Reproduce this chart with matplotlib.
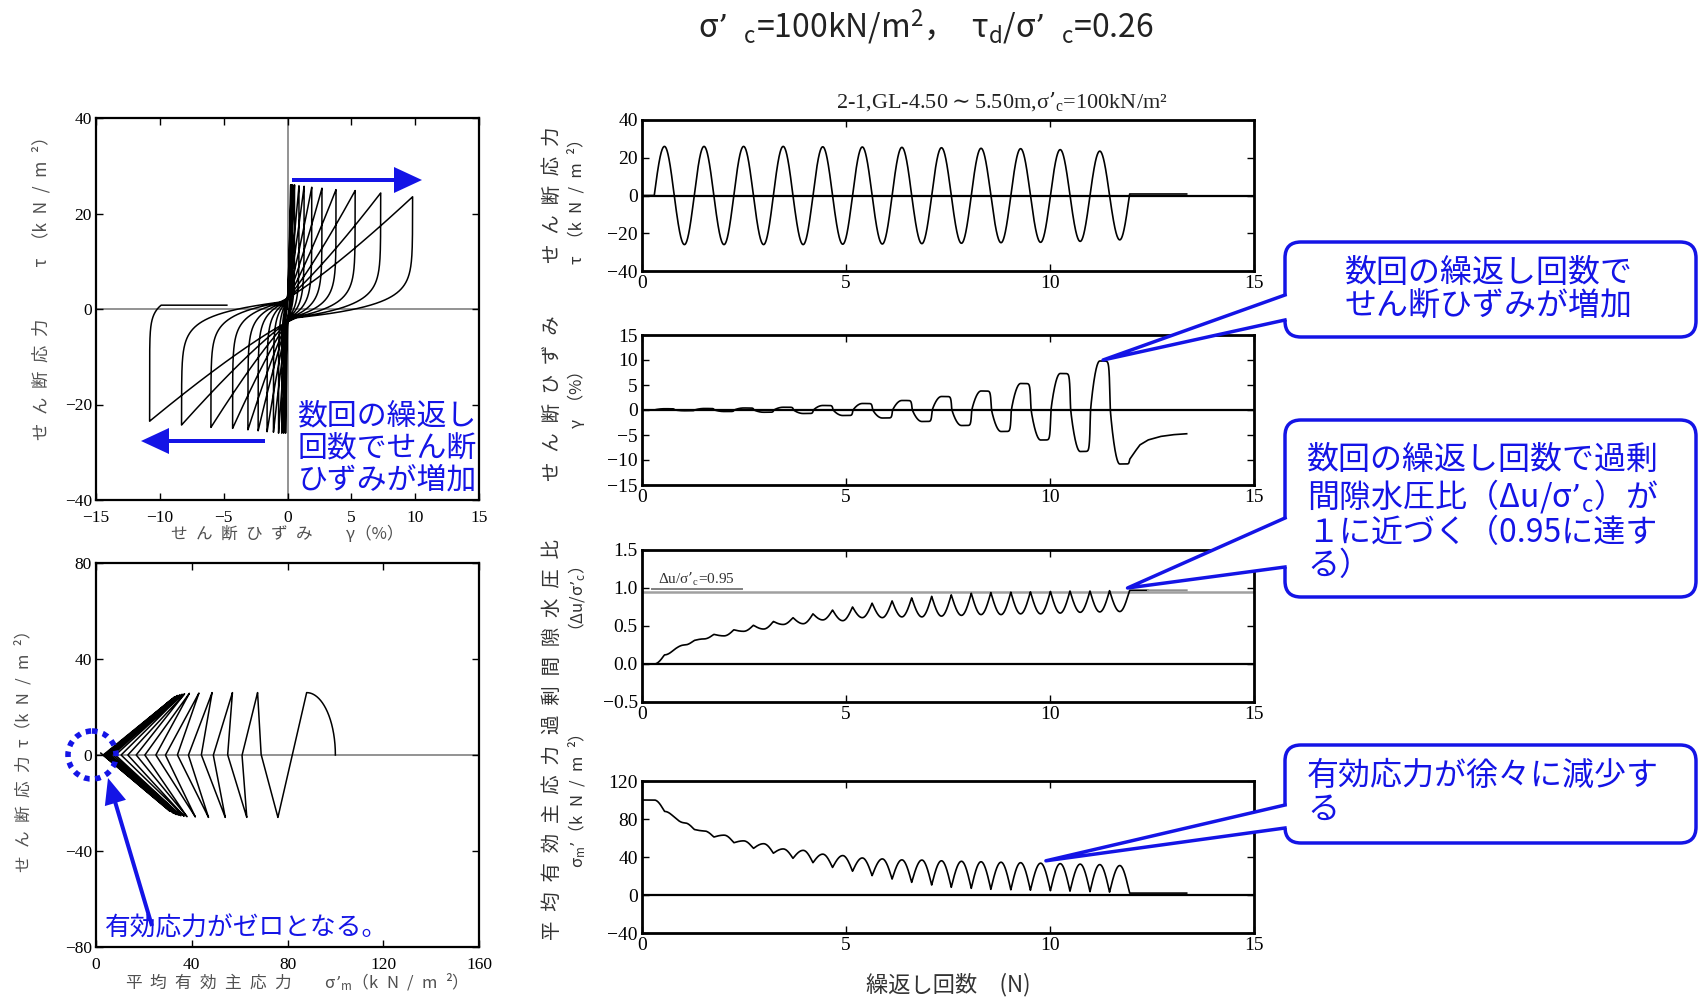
import numpy as np
import matplotlib
matplotlib.use("Agg")
import matplotlib.pyplot as plt
from matplotlib.patches import FancyBboxPatch, Polygon, Circle, FancyArrow

JP = ["Noto Sans CJK JP", "DejaVu Sans"]
SERIF = ["Liberation Serif", "Noto Sans CJK JP", "DejaVu Sans"]
plt.rcParams["font.family"] = JP
plt.rcParams["mathtext.fontset"] = "dejavuserif"

BLUE = "#1414e6"
W, H = 1698, 1000

# ---------------- data ----------------
# times (number of cycles N) of shear-stress zero crossings and extremes
T_CROSS = [0.30, 0.79, 1.28, 1.76, 2.25, 2.73, 3.22, 3.70, 4.19, 4.67, 5.16, 5.64,
           6.13, 6.61, 7.10, 7.58, 8.07, 8.55, 9.04, 9.52, 10.01, 10.49, 10.98, 11.46, 11.95]
T_EXT = [0.55, 1.04, 1.52, 2.01, 2.49, 2.98, 3.46, 3.95, 4.43, 4.92, 5.40, 5.89,
         6.37, 6.86, 7.34, 7.83, 8.31, 8.80, 9.28, 9.77, 10.25, 10.74, 11.22, 11.71]
N_END = 13.35

# shear stress tau (kN/m2) at the extremes, and residual value after the test
TAU_EXT = [26, -26, 26, -26, 26, -26, 26, -26, 25.8, -25.8, 25.7, -25.7,
           25.5, -25.5, 25.3, -25.3, 25.0, -25.0, 24.8, -24.8, 24.3, -24.3, 23.5, -23.5]
TAU_END = 0.8

# shear strain gamma (%) at the stress extremes
GAM_EXT = [0.25, -0.15, 0.3, -0.3, 0.4, -0.45, 0.55, -0.7, 0.9, -1.1, 1.3, -1.6,
           1.9, -2.3, 2.7, -3.1, 3.8, -4.3, 5.3, -6.0, 7.3, -8.3, 9.8, -10.8]
# strain recovery after the last cycle
GAM_TAIL_T = [11.95, 12.05, 12.2, 12.4, 12.7, 13.0, 13.35]
GAM_TAIL = [-9.9, -8.7, -7.0, -6.0, -5.3, -4.95, -4.75]

# mean effective principal stress sigma'm (kN/m2)
SM_CROSS = [100, 82, 69, 61, 55, 49, 44, 38.6, 34, 29, 25, 20.4, 16.8, 13.3, 10.5,
            8.1, 7, 6, 5.5, 5, 4.5, 4, 3.5, 3, 2]
SM_EXT = [88, 76, 67.5, 63, 57, 54, 48.5, 47, 43, 41.5, 39, 38, 37, 36.8, 36, 35.5,
          35, 34.5, 34, 33.5, 33, 32.5, 32, 31]

# excess pore water pressure ratio du/sigma'c
DU_CROSS = [0, 0.19, 0.31, 0.39, 0.45, 0.51, 0.56, 0.61, 0.66, 0.71, 0.75, 0.80, 0.83,
            0.87, 0.89, 0.91, 0.93, 0.94, 0.945, 0.95, 0.955, 0.96, 0.96, 0.965, 0.97]
DU_EXT = [0.12, 0.25, 0.33, 0.37, 0.43, 0.46, 0.52, 0.53, 0.58, 0.57, 0.61, 0.61,
          0.62, 0.62, 0.63, 0.64, 0.65, 0.65, 0.66, 0.66, 0.67, 0.68, 0.685, 0.69]
DU_LINE = 0.95

# axis ticks
X_TICKS_STRAIN = [-15, -10, -5, 0, 5, 10, 15]
Y_TICKS_STRESS = [-40, -20, 0, 20, 40]
X_TICKS_PATH = [0, 40, 80, 120, 160]
Y_TICKS_PATH = [-80, -40, 0, 40, 80]
X_TICKS_N = [0, 5, 10, 15]
Y_TICKS_GAM = [-15, -10, -5, 0, 5, 10, 15]
Y_TICKS_DU = [-0.5, 0.0, 0.5, 1.0, 1.5]
Y_TICKS_SM = [-40, 0, 40, 80, 120]

# ---------------- build the time histories ----------------
t = np.linspace(0.0, N_END, 40001)


def shaped(cross_vals, ext_vals, first_slow=False):
    y = np.full(t.shape, float(cross_vals[0]))
    for i in range(len(T_EXT)):
        segs = [(T_CROSS[i], T_EXT[i], cross_vals[i], ext_vals[i], "rise"),
                (T_EXT[i], T_CROSS[i + 1], ext_vals[i], cross_vals[i + 1], "fall")]
        for ta, tb, a, b, kind in segs:
            m = (t >= ta) & (t < tb)
            s = (t[m] - ta) / (tb - ta)
            if kind == "rise" and not (i == 0 and first_slow):
                y[m] = a + (b - a) * np.sin(np.pi * s / 2)
            else:
                y[m] = a + (b - a) * (1 - np.cos(np.pi * s / 2))
    y[t >= T_CROSS[-1]] = cross_vals[-1]
    return y


tau = shaped([0.0] * len(T_EXT) + [TAU_END], TAU_EXT)
sm = shaped(SM_CROSS, SM_EXT, first_slow=True)
du = shaped(DU_CROSS, DU_EXT, first_slow=True)

P, LAM = 0.85, 2.6
gam = np.zeros_like(t)
m = (t >= T_CROSS[0]) & (t < T_EXT[0])
gam[m] = GAM_EXT[0] * np.clip(tau[m] / TAU_EXT[0], 0, 1) ** P
for i in range(1, len(T_EXT)):
    m = (t >= T_EXT[i - 1]) & (t < T_EXT[i])
    g1, g2, A2 = GAM_EXT[i - 1], GAM_EXT[i], TAU_EXT[i]
    sgn = 1.0 if A2 > 0 else -1.0
    tf = 1.4 if sgn > 0 else -1.8
    gc = 0.08 * g1
    x = sgn * (tau[m] - tf)
    span = abs(A2) - sgn * tf
    gam[m] = np.where(x <= 0,
                      g1 - (g1 - gc) * np.exp(np.minimum(x, 0) / LAM),
                      gc + (g2 - gc) * np.clip(x / span, 0, 1) ** P)
# last unloading: strain starts to recover as the stress returns to zero
m = (t >= T_EXT[-1]) & (t < T_CROSS[-1])
gam[m] = GAM_EXT[-1] + (GAM_TAIL[0] - GAM_EXT[-1]) * np.exp((tau[m] - TAU_END) / 2.0)
m = t >= T_CROSS[-1]
gam[m] = np.interp(t[m], GAM_TAIL_T, GAM_TAIL)

# ---------------- figure ----------------
fig = plt.figure(figsize=(W / 100, H / 100), dpi=100)
fig.patch.set_facecolor("white")


def add_ax(left, top, width, height):
    return fig.add_axes([left / W, 1 - (top + height) / H, width / W, height / H])


def fmt(v, dec=0):
    s = f"{v:.{dec}f}"
    return s.replace("-", "\u2212")


def style(ax, xt, yt, fs, lw, ydec=0, xpad=3):
    ax.set_xticks(xt)
    ax.set_xticklabels([fmt(v) for v in xt], fontfamily=SERIF, fontsize=fs)
    ax.set_yticks(yt)
    ax.set_yticklabels([fmt(v, ydec) for v in yt], fontfamily=SERIF, fontsize=fs)
    ax.tick_params(direction="in", top=True, right=True, length=5, width=1.0, pad=3)
    ax.tick_params(axis="x", pad=xpad)
    for sp_ in ax.spines.values():
        sp_.set_linewidth(lw)


# stress-strain loops
ax1 = add_ax(96, 118, 383, 382)
ax1.axhline(0, color="#808080", lw=1.2, zorder=1)
ax1.axvline(0, color="#808080", lw=1.2, zorder=1)
ax1.plot(gam, tau, color="black", lw=1.1, zorder=2)
ax1.set_xlim(-15, 15)
ax1.set_ylim(-40, 40)
style(ax1, X_TICKS_STRAIN, Y_TICKS_STRESS, 12.5, 1.6, xpad=7)

# effective stress path
ax2 = add_ax(96, 563, 383, 384)
ax2.axhline(0, color="#808080", lw=1.2, zorder=1)
ax2.plot(sm, tau, color="black", lw=1.1, zorder=2)
ax2.set_xlim(0, 160)
ax2.set_ylim(-80, 80)
style(ax2, X_TICKS_PATH, Y_TICKS_PATH, 12.5, 1.6, xpad=7)

# time histories
RL, RW = 642, 612
axr1 = add_ax(RL, 120, RW, 151)
axr2 = add_ax(RL, 335, RW, 150)
axr3 = add_ax(RL, 550, RW, 152)
axr4 = add_ax(RL, 781, RW, 152)

for ax in (axr1, axr2, axr3, axr4):
    ax.axhline(0, color="black", lw=1.6, zorder=1)
    ax.set_xlim(0, 15)

axr1.plot(t, tau, color="black", lw=1.2, zorder=2)
axr1.set_ylim(-40, 40)
style(axr1, X_TICKS_N, Y_TICKS_STRESS, 14, 2.0)

axr2.plot(t, gam, color="black", lw=1.2, zorder=2)
axr2.set_ylim(-15, 15)
style(axr2, X_TICKS_N, Y_TICKS_GAM, 14, 2.0)

axr3.axhline(DU_LINE, color="#a0a0a0", lw=1.8, zorder=1)
cut = t <= 12.4
axr3.plot(t[cut], du[cut], color="black", lw=1.2, zorder=2)
axr3.plot(t[~cut], du[~cut], color="#909090", lw=1.4, zorder=2)
axr3.plot([0.25, 2.45], [0.985, 0.985], color="#808080", lw=1.4, zorder=2)
axr3.text(0.4, 1.0, "Δu/σ’$_\\mathregular{c}$=0.95", fontsize=11, family=SERIF,
          color="#333333", va="bottom", ha="left")
axr3.set_ylim(-0.5, 1.5)
style(axr3, X_TICKS_N, Y_TICKS_DU, 14, 2.0, ydec=1)

axr4.plot(t, sm, color="black", lw=1.2, zorder=2)
axr4.set_ylim(-40, 120)
style(axr4, X_TICKS_N, Y_TICKS_SM, 14, 2.0)

# ---------------- overlay for texts and callouts ----------------
ov = fig.add_axes([0, 0, 1, 1], zorder=10)
ov.set_xlim(0, W)
ov.set_ylim(H, 0)
ov.axis("off")
ov.patch.set_alpha(0)


def to_px(ax, x, y):
    X, Y = ax.transData.transform((x, y))
    return X, H - Y


def sp(s):
    return "\u2002".join(s)


GRAY = "#505050"
ov.text(926, 27, "σ’\u2002$_\\mathregular{c}$=100kN/m$^\\mathregular{2}$，\u2002τ$_\\mathregular{d}$/σ’\u2002$_\\mathregular{c}$=0.26",
        ha="center", va="center", fontsize=23, color="#222222")
ov.text(1002, 102, "2-1,GL-4.50$\\sim$5.50m,σ’$_\\mathregular{c}$=100kN/m²", ha="center", va="center",
        fontsize=16, family=SERIF, color="#222222")

# left axis labels
ov.text(41, 284, sp("せん断応力") + "\u2003\u2003\u2003τ\u2002（" + sp("kN/m²") + "）", rotation=90,
        ha="center", va="center", fontsize=12.5, color=GRAY)
ov.text(24, 747, sp("せん断応力") + "\u2002τ（" + sp("kN/m²") + "）", rotation=90,
        ha="center", va="center", fontsize=12, color=GRAY)
ov.text(287, 534, sp("せん断ひずみ") + "\u2003\u2003γ（%）", ha="center", va="center",
        fontsize=12, color=GRAY)
ov.text(292, 982, sp("平均有効主応力") + "\u2003\u2003σ’$_\\mathregular{m}$（" + sp("kN/m²") + "）",
        ha="center", va="center", fontsize=12, color=GRAY)

# right axis labels
RLAB = [("せん断応力", "τ\u2002（" + sp("kN/m²") + "）", 195, 197),
        ("せん断ひずみ", "γ\u2002（%）", 398, 395),
        ("過剰間隙水圧比", "（Δu/σ’$_\\mathregular{c}$）", 636, 603),
        ("平均有効主応力", "σ$_\\mathregular{m}$’（" + sp("kN/m²") + "）", 842, 801)]
for l1, l2, y1, y2 in RLAB:
    ov.text(552, y1, sp(l1), rotation=90, ha="center", va="center", fontsize=14, color="#333333")
    ov.text(577, y2, l2, rotation=90, ha="center", va="center", fontsize=12, color="#333333")
ov.text(948, 985, "繰返し回数\u2003(N)", ha="center", va="center", fontsize=16, color="#333333")

# annotations on the left plots
ov.add_patch(FancyArrow(292, 180, 130, 0, width=4, head_width=26, head_length=28,
                        length_includes_head=True, color=BLUE, lw=0))
ov.add_patch(FancyArrow(265, 441, -124, 0, width=4, head_width=26, head_length=28,
                        length_includes_head=True, color=BLUE, lw=0))
ov.text(298, 448, "数回の繰返し\n回数でせん断\nひずみが増加", ha="left", va="center",
        fontsize=21.5, linespacing=1.05, color=BLUE)

ov.add_patch(Circle((92, 755), 24, fill=False, ec=BLUE, lw=4, linestyle=(0, (1, 1))))
ov.add_patch(FancyArrow(152, 926, -44, -148, width=4, head_width=22, head_length=26,
                        length_includes_head=True, color=BLUE, lw=0))
ov.text(105, 929, "有効応力がゼロとなる。", ha="left", va="center", fontsize=18.5, color=BLUE)


def callout(y0, y1, ya, yb, tip, x0=1285, x1=1696):
    ov.add_patch(FancyBboxPatch((x0, y0), x1 - x0, y1 - y0,
                                boxstyle="round,pad=0,rounding_size=16",
                                fc="white", ec=BLUE, lw=2.5, zorder=5))
    ov.add_patch(Polygon([(x0 + 3, ya), tip, (x0 + 3, yb)], closed=True,
                         fc="white", ec="none", zorder=6))
    ov.plot([x0, tip[0], x0], [ya, tip[1], yb], color=BLUE, lw=2.5, zorder=7)


callout(242, 337, 295, 320, to_px(axr2, 11.3, 10.0))
callout(420, 597, 518, 567, to_px(axr3, 11.9, 1.0))
callout(745, 843, 805, 828, to_px(axr4, 9.9, 36))

ov.text(1489, 290, "数回の繰返し回数で\nせん断ひずみが増加", ha="center", va="center",
        fontsize=23, linespacing=1.05, color=BLUE, zorder=8)
ov.text(1307, 513, "数回の繰返し回数で過剰\n間隙水圧比（Δu/σ’$_\\mathregular{c}$）が\n１に近づく（0.95に達す\nる）",
        ha="left", va="center", fontsize=23, linespacing=1.05, color=BLUE, zorder=8)
ov.text(1307, 793, "有効応力が徐々に減少す\nる", ha="left", va="center",
        fontsize=23, linespacing=1.05, color=BLUE, zorder=8)

fig.savefig("out.png", dpi=100, facecolor="white")
